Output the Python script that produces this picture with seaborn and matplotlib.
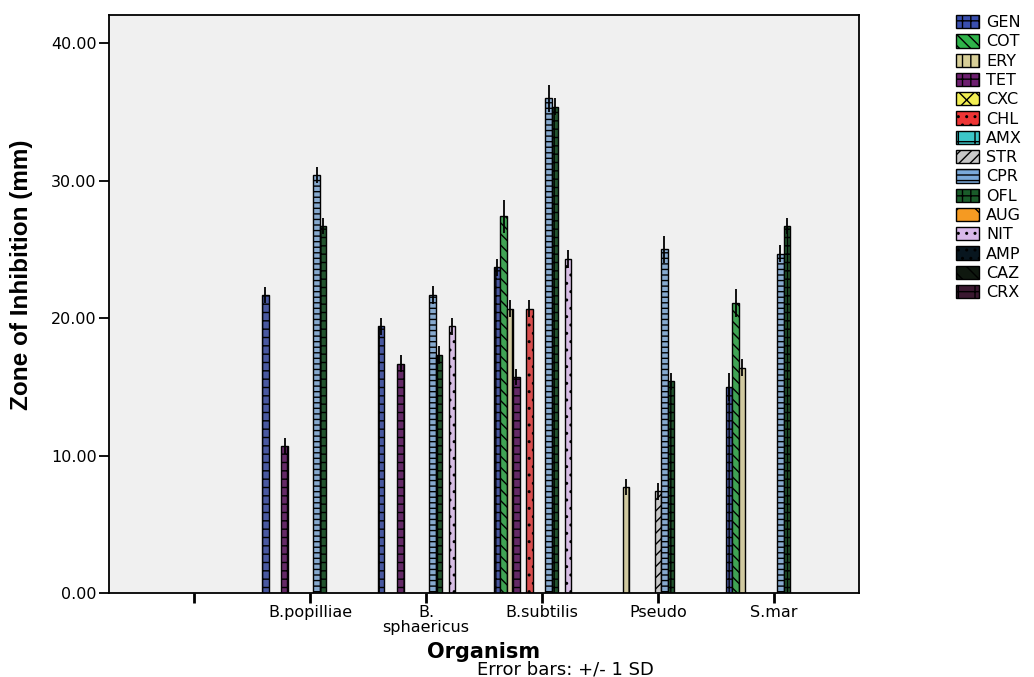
import numpy as np
import pandas as pd
import seaborn as sns
import matplotlib.pyplot as plt
from matplotlib.patches import Patch

nan = np.nan

# x categories (first slot is an empty category in the original output)
organisms = ["", "B.popilliae", "B.\nsphaericus", "B.subtilis", "Pseudo", "S.mar"]
antibiotics = ["GEN", "COT", "ERY", "TET", "CXC", "CHL", "AMX", "STR",
               "CPR", "OFL", "AUG", "NIT", "AMP", "CAZ", "CRX"]

# mean zone of inhibition (mm), one value per organism
gen = [nan, 21.7, 19.4, 23.7, nan, 15.0]
cot = [nan, nan, nan, 27.4, nan, 21.1]
ery = [nan, nan, nan, 20.7, 7.7, 16.4]
tet = [nan, 10.7, 16.7, 15.7, nan, nan]
chl = [nan, nan, nan, 20.7, nan, nan]
stre = [nan, nan, nan, nan, 7.4, nan]
cpr = [nan, 30.4, 21.7, 36.0, 25.0, 24.7]
ofl = [nan, 26.7, 17.3, 35.4, 15.4, 26.7]
nit = [nan, nan, 19.4, 24.3, nan, nan]

# standard deviations
gen_sd = [nan, 0.6, 0.6, 0.6, nan, 1.0]
cot_sd = [nan, nan, nan, 1.2, nan, 1.0]
ery_sd = [nan, nan, nan, 0.6, 0.6, 0.6]
tet_sd = [nan, 0.6, 0.6, 0.6, nan, nan]
chl_sd = [nan, nan, nan, 0.6, nan, nan]
str_sd = [nan, nan, nan, nan, 0.6, nan]
cpr_sd = [nan, 0.6, 0.65, 1.0, 1.0, 0.6]
ofl_sd = [nan, 0.6, 0.65, 0.6, 0.6, 0.6]
nit_sd = [nan, nan, 0.6, 0.65, nan, nan]

means = {"GEN": gen, "COT": cot, "ERY": ery, "TET": tet, "CHL": chl,
         "STR": stre, "CPR": cpr, "OFL": ofl, "NIT": nit}
sds = {"GEN": gen_sd, "COT": cot_sd, "ERY": ery_sd, "TET": tet_sd, "CHL": chl_sd,
       "STR": str_sd, "CPR": cpr_sd, "OFL": ofl_sd, "NIT": nit_sd}

colors = {"GEN": "#3a4fae", "COT": "#2fb34a", "ERY": "#d8cf98", "TET": "#6e1f70",
          "CXC": "#f2ee52", "CHL": "#ee3535", "AMX": "#3cc6c8", "STR": "#c8c8c8",
          "CPR": "#7aa9da", "OFL": "#1a5c2a", "AUG": "#f59a22", "NIT": "#d9b8ea",
          "AMP": "#08161f", "CAZ": "#0f180f", "CRX": "#3a1830"}
hatches = {"GEN": "++", "COT": "\\\\\\", "ERY": "||", "TET": "++", "CXC": "xx",
           "CHL": "..", "AMX": "+", "STR": "///", "CPR": "---", "OFL": "++",
           "AUG": "x", "NIT": "..", "AMP": "..", "CAZ": "\\\\", "CRX": "+"}

rows = []
for ab in antibiotics:
    if ab not in means:
        continue
    for org, m, s in zip(organisms, means[ab], sds[ab]):
        if not np.isnan(m):
            rows.append({"Organism": org, "Antibiotic": ab, "mean": m, "sd": s})
df = pd.DataFrame(rows)

plt.rcParams["hatch.linewidth"] = 1.0
fig = plt.figure(figsize=(10.34, 6.77), dpi=100)
ax = fig.add_axes([0.1057, 0.1241, 0.7253, 0.8537])
ax.set_facecolor("#f0f0f0")

width = 0.83
sns.barplot(data=df, x="Organism", y="mean", hue="Antibiotic",
            order=organisms, hue_order=antibiotics, palette=colors,
            errorbar=None, width=width, dodge=True, gap=0,
            edgecolor="black", linewidth=1.0, legend=False, ax=ax)

# style each bar by its hue slot and add +/- 1 SD error bars
bw = width / len(antibiotics)
for bar in ax.patches:
    h = bar.get_height()
    if np.isnan(h) or h == 0:
        continue
    xc = bar.get_x() + bar.get_width() / 2
    ci = int(round(xc))
    hi = int(round((xc - ci + width / 2) / bw - 0.5))
    ab = antibiotics[hi]
    bar.set_hatch(hatches[ab])
    row = df[(df["Antibiotic"] == ab) & (df["Organism"] == organisms[ci])]
    ax.errorbar(xc, h, yerr=row["sd"].iloc[0], fmt="none", ecolor="black",
                elinewidth=1.3, capsize=0, zorder=4)

ax.set_xlim(-0.733, 5.735)
ax.set_ylim(0, 42.06)
ax.set_yticks([0, 10, 20, 30, 40])
ax.set_yticklabels([f"{v:.2f}" for v in [0, 10, 20, 30, 40]])
ax.set_xticks(range(len(organisms)))
ax.set_xticklabels(organisms, ha="center", multialignment="center", linespacing=0.95)
ax.tick_params(axis="y", direction="out", length=7, width=1.3, labelsize=11.5, pad=2)
ax.tick_params(axis="x", direction="out", length=7, width=2, labelsize=11.5, pad=2)
for sp in ax.spines.values():
    sp.set_linewidth(1.3)
    sp.set_color("black")
ax.set_xlabel("")
ax.set_ylabel("")

fig.text(22 / 1034, 1 - 275 / 677, "Zone of Inhibition (mm)", rotation=90,
         ha="center", va="center", fontsize=17.5, fontweight="bold",
         family=["Liberation Sans", "DejaVu Sans"])
fig.text(484 / 1034, 1 - 652 / 677, "Organism", ha="center", va="center",
         fontsize=15, fontweight="bold")
fig.text(565 / 1034, 1 - 669 / 677, "Error bars: +/- 1 SD", ha="center",
         va="center", fontsize=13)

handles = [Patch(facecolor=colors[ab], edgecolor="black", hatch=hatches[ab],
                 linewidth=1.0, label=ab) for ab in antibiotics]
fig.legend(handles=handles, loc="upper left", bbox_to_anchor=(956 / 1034, 1 - 15 / 677),
           frameon=False, fontsize=11.5, handlelength=1.45, handleheight=0.9,
           handletextpad=0.45, labelspacing=0.26, borderaxespad=0, borderpad=0)

fig.savefig("out.png", dpi=100)
